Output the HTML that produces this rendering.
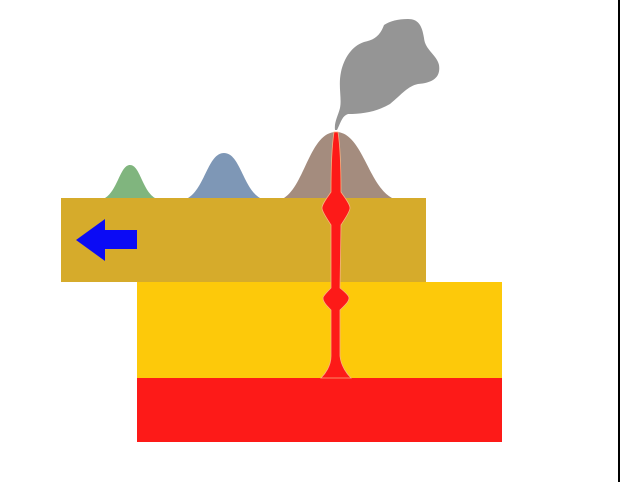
<!DOCTYPE html>
<html><head><meta charset="utf-8"><style>html,body{margin:0;padding:0;background:#fff}svg{display:block}</style></head>
<body>
<svg width="620" height="482" viewBox="0 0 620 482" xmlns="http://www.w3.org/2000/svg">
<rect x="618" y="0" width="2" height="482" fill="#000"/>
<path d="M337,130 C341,122 342,116 348,114 C362,114 376,112 390,104 C402,94 408,86 418,84 C432,83 441,78 439,65 C437,55 425,50 424,38 C422,25 418,19 408,19 C398,19 390,21 384,25 C380,36 374,40 364,42 C352,46 344,58 341,72 C338,86 342,98 340,108 C338,116 334,122 335,130 Z" fill="#959595"/>
<path d="M105,198 C118,190 120,165 130,165 C140,165 142,190 155,198 Z" fill="#80b57e"/>
<path d="M188,198 C205,188 208,153 224,153 C240,153 243,188 260,198 Z" fill="#7e97b6"/>
<path d="M284,198 C305,185 310,132 336,132 C362,132 368,185 392,198 Z" fill="#a48c7e"/>
<rect x="61" y="198" width="365" height="84" fill="#d6ab2b"/>
<rect x="137" y="282" width="365" height="96" fill="#fdc90a"/>
<rect x="137" y="378" width="365" height="64" fill="#fd1a18"/>
<path d="M76,240 L105,219 L105,230 L137,230 L137,249 L105,249 L105,261 Z" fill="#0b0bf5"/>
<path d="M334,132 L338,132 C340,145 341,165 341,192 C345,198 350,204 350,208 C350,212 344,220 341,225 L340,288 C345,292 349,296 349,298 C349,302 344,306 340,310 L340,356 C341,366 347,374 351,378 L321,378 C325,374 331,366 331,356 L331,310 C327,306 323,302 323,298 C323,296 327,292 331,288 L331,225 C328,220 322,212 322,208 C322,204 327,198 331,192 C331,165 332,145 334,132 Z" fill="#fd1a18" stroke="#f8b080" stroke-width="0.8"/>
</svg>
</body></html>
